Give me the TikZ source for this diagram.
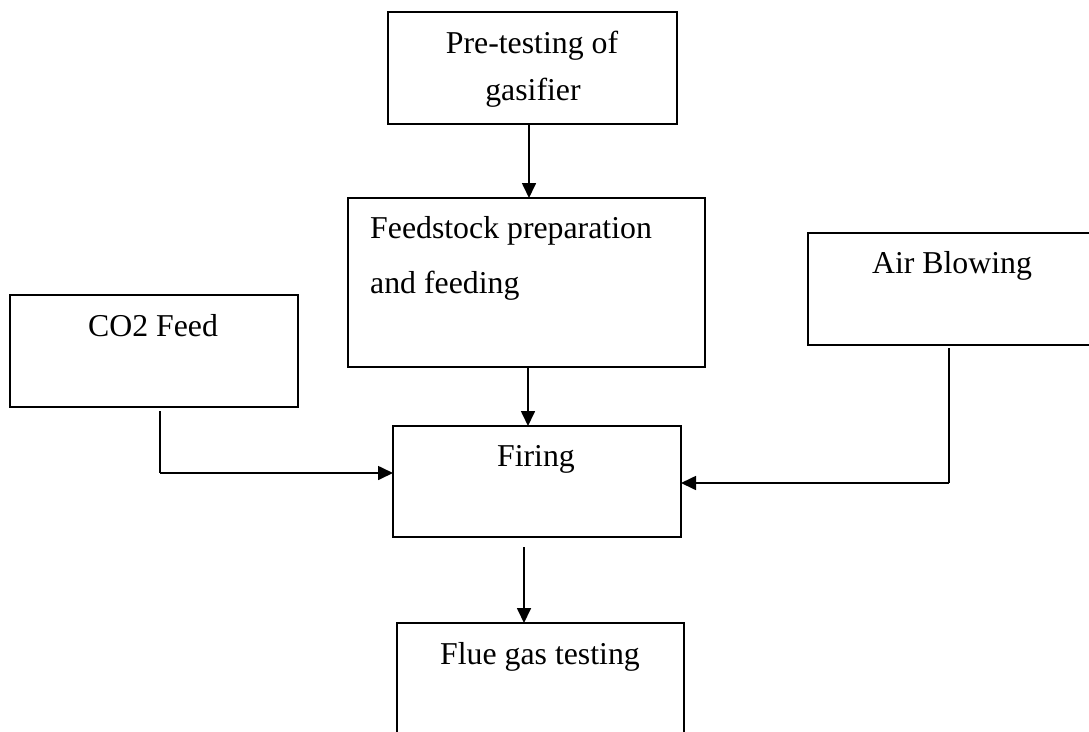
\documentclass[tikz,border=0pt]{standalone}
\usepackage{fontspec}
\setmainfont{Liberation Serif}
\usetikzlibrary{arrows.meta}
\begin{document}
\begin{tikzpicture}[x=1pt,y=-1pt,
  box/.style={draw,line width=1.7pt,inner sep=0pt,outer sep=0pt,anchor=north west},
  lbl/.style={inner sep=0pt,anchor=base,font=\fontsize{31.8}{38}\selectfont},
  lbll/.style={lbl,anchor=base west},
  arr/.style={line width=1.7pt,-{Triangle[length=15pt,width=14pt]}},
  ln/.style={line width=1.7pt}]
\useasboundingbox (0,0) rectangle (1089,731);
\clip (0,0) rectangle (1089,731);
% boxes
\node[box,minimum width=289pt,minimum height=112pt] (pre) at (388,12) {};
\node[box,minimum width=357pt,minimum height=169pt] (feed) at (348,198) {};
\node[box,minimum width=288pt,minimum height=112pt] (co2) at (10,295) {};
\node[box,minimum width=290pt,minimum height=112pt] (air) at (808,233) {};
\node[box,minimum width=288pt,minimum height=111pt] (fire) at (393,426) {};
\node[box,minimum width=287pt,minimum height=140pt] (flue) at (397,623) {};
% texts
\node[lbl] (t1) at (532,53) {Pre-testing of};
\node[lbl] (t2) at (533,100) {gasifier};
\node[lbll] (t3) at (370,238) {Feedstock preparation};
\node[lbll] (t4) at (370,293) {and feeding};
\node[lbl] (t5) at (153,336) {CO2 Feed};
\node[lbl] (t6) at (952,273) {Air Blowing};
\node[lbl] (t7) at (536,466) {Firing};
\node[lbl] (t8) at (540,664) {Flue gas testing};
% helper coordinates
\coordinate (xa) at (529,0);
\coordinate (xb) at (528,0);
\coordinate (xc) at (160,0);
\coordinate (yc) at (0,473);
\coordinate (xd) at (949,0);
\coordinate (yd) at (0,483);
\coordinate (xe) at (524,0);
% connectors
\draw[arr] (pre.south -| xa) -- (feed.north -| xa);
\draw[arr] (feed.south -| xb) -- (fire.north -| xb);
\draw[ln] ([yshift=-4pt]co2.south -| xc) -- (xc |- yc);
\draw[arr] (xc |- yc) -- (fire.west |- yc);
\draw[ln] ([yshift=-3pt]air.south -| xd) -- (xd |- yd);
\draw[arr] (xd |- yd) -- (fire.east |- yd);
\draw[arr] ([yshift=-10pt]fire.south -| xe) -- (flue.north -| xe);
\end{tikzpicture}
\end{document}
